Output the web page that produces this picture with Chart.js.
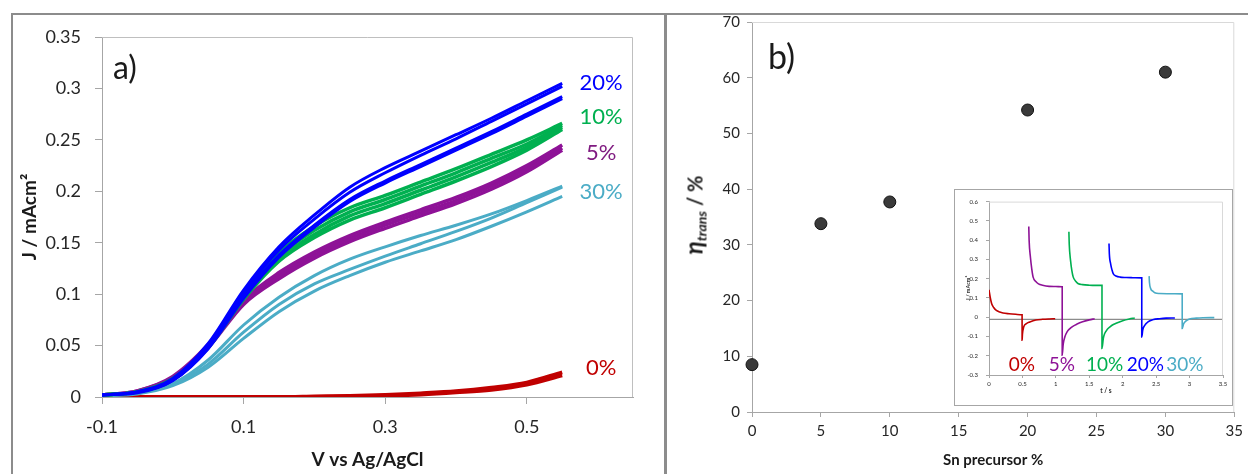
<!DOCTYPE html>
<html>
<head>
<meta charset="utf-8">
<script src="https://cdn.jsdelivr.net/npm/chart.js@4.4.0/dist/chart.umd.min.js"></script>
<style>
  body { margin: 0; width: 1248px; height: 474px; background: #fff; position: relative; overflow: hidden; font-family: Lato, "Open Sans", sans-serif; color: #1a1a1a; }
  .frame { position: absolute; border-top: 2px solid #8c8c8c; border-left: 2px solid #8c8c8c; }
  #frameA { left: 11px; top: 13px; width: 660px; height: 470px; }
  #frameB { left: 664px; top: 13px; width: 600px; height: 470px; border-left-width: 3px; }
  .box { position: absolute; }
  #wrapA { left: 0; top: 0; width: 660px; height: 474px; }
  #wrapB { left: 660px; top: 0; width: 588px; height: 474px; }
  #wrapInset { left: 954px; top: 189px; width: 279px; height: 217px; box-sizing: border-box; background: #fff; border: 1px solid #a6a6a6; }
  .tag { position: absolute; font-size: 32px; line-height: 1; }
  .ytitle { position: absolute; transform: translate(-50%, -50%) rotate(-90deg); white-space: nowrap; font-weight: bold; font-size: 20px; }
  .ytitle i { font-size: 24px; }
  .ytitle sub { font-size: 14px; vertical-align: -4px; }
</style>
</head>
<body>
<div class="frame" id="frameA"></div>
<div class="frame" id="frameB"></div>
<div class="box" id="wrapA"><canvas id="chartA"></canvas></div>
<div class="box" id="wrapB"><canvas id="chartB"></canvas></div>
<div class="tag" style="left:113px; top:51px;">a)</div>
<div class="tag" style="left:768px; top:39px; font-size:34px;">b)</div>
<div class="ytitle" style="left:694px; top:215px;"><i>η<sub>trans</sub></i> / %</div>
<div class="box" id="wrapInset"><canvas id="chartInset"></canvas></div>
<script>
// ---- panel a: LSV curves, J (mA cm-2) vs V vs Ag/AgCl ----
const voltage = [-0.1, -0.05, 0, 0.05, 0.1, 0.15, 0.2, 0.25, 0.3, 0.35, 0.4, 0.45, 0.5, 0.55];

// 20 %
const blue1 = [0.002, 0.005, 0.018, 0.052, 0.104, 0.146, 0.177, 0.204, 0.223, 0.239, 0.255, 0.271, 0.288, 0.305];
const blue2 = [0.002, 0.005, 0.017, 0.050, 0.101, 0.143, 0.173, 0.199, 0.218, 0.235, 0.251, 0.268, 0.285, 0.302];
const blue3 = [0.002, 0.005, 0.016, 0.048, 0.098, 0.138, 0.167, 0.192, 0.210, 0.226, 0.242, 0.258, 0.275, 0.292];
const blue4 = [0.002, 0.004, 0.016, 0.047, 0.096, 0.136, 0.165, 0.190, 0.208, 0.224, 0.240, 0.256, 0.273, 0.290];
// 10 %
const green1 = [0.002, 0.005, 0.018, 0.050, 0.099, 0.140, 0.166, 0.184, 0.196, 0.209, 0.222, 0.236, 0.250, 0.266];
const green2 = [0.002, 0.005, 0.017, 0.049, 0.097, 0.137, 0.162, 0.180, 0.192, 0.205, 0.218, 0.232, 0.246, 0.264];
const green3 = [0.002, 0.005, 0.017, 0.048, 0.096, 0.134, 0.158, 0.176, 0.188, 0.201, 0.214, 0.228, 0.243, 0.262];
const green4 = [0.002, 0.005, 0.017, 0.048, 0.095, 0.132, 0.155, 0.172, 0.184, 0.197, 0.210, 0.224, 0.240, 0.260];
// 5 %
const purple1 = [0.002, 0.006, 0.020, 0.051, 0.094, 0.121, 0.141, 0.157, 0.170, 0.182, 0.194, 0.208, 0.225, 0.245];
const purple2 = [0.002, 0.006, 0.019, 0.049, 0.092, 0.118, 0.138, 0.154, 0.167, 0.179, 0.191, 0.205, 0.222, 0.242];
const purple3 = [0.002, 0.005, 0.018, 0.048, 0.090, 0.115, 0.135, 0.151, 0.164, 0.176, 0.188, 0.202, 0.219, 0.240];
// 30 %
const cyan1 = [0.002, 0.004, 0.013, 0.036, 0.070, 0.097, 0.118, 0.134, 0.146, 0.157, 0.167, 0.178, 0.191, 0.205];
const cyan2 = [0.002, 0.004, 0.012, 0.032, 0.063, 0.090, 0.110, 0.124, 0.137, 0.149, 0.161, 0.174, 0.189, 0.204];
const cyan3 = [0.001, 0.003, 0.011, 0.029, 0.057, 0.083, 0.103, 0.118, 0.131, 0.142, 0.153, 0.166, 0.180, 0.195];
// 0 %
const red1 = [0, 0, 0, 0, 0, 0, 0.0005, 0.001, 0.002, 0.0035, 0.0055, 0.009, 0.014, 0.024];
const red2 = [0, 0, 0, 0, 0, 0, 0, 0.0005, 0.0012, 0.0025, 0.0045, 0.007, 0.012, 0.021];

const vTicks = [-0.1, 0.1, 0.3, 0.5];
const jTicks = [0, 0.05, 0.1, 0.15, 0.2, 0.25, 0.3, 0.35];

const curveLabels = ["20%", "10%", "5%", "30%", "0%"];
const curveLabelV = [0.605, 0.605, 0.605, 0.605, 0.605];
const curveLabelJ = [0.305, 0.272, 0.237, 0.199, 0.028];

// ---- panel b: transfer efficiency vs Sn precursor ----
const snPercent = [0, 5, 10, 20, 30];
const etaTrans = [8.5, 33.8, 37.7, 54.2, 61.0];
const snTicks = [0, 5, 10, 15, 20, 25, 30, 35];
const etaTicks = [0, 10, 20, 30, 40, 50, 60, 70];

// ---- inset: current transients ----
const tRed = [0, 0.02, 0.04, 0.07, 0.11, 0.16, 0.21, 0.3, 0.4, 0.495, 0.495, 0.5, 0.52, 0.56, 0.61, 0.7, 0.8, 0.9, 0.99];
const jRed = [0.142, 0.1, 0.07, 0.05, 0.035, 0.027, 0.022, 0.018, 0.015, 0.013, -0.12, -0.09, -0.05, -0.033, -0.025, -0.015, -0.011, -0.009, -0.008];
const tPurple = [0.595, 0.6, 0.62, 0.64, 0.66, 0.7, 0.74, 0.8, 0.9, 1.0, 1.095, 1.095, 1.11, 1.135, 1.17, 1.21, 1.26, 1.31, 1.4, 1.5, 1.58];
const jPurple = [0.471, 0.40, 0.31, 0.25, 0.208, 0.185, 0.173, 0.166, 0.16, 0.159, 0.158, -0.197, -0.14, -0.102, -0.075, -0.059, -0.046, -0.037, -0.024, -0.014, -0.008];
const tGreen = [1.195, 1.2, 1.22, 1.24, 1.26, 1.3, 1.33, 1.4, 1.5, 1.6, 1.69, 1.69, 1.71, 1.73, 1.77, 1.81, 1.86, 1.91, 2.0, 2.1, 2.18];
const jGreen = [0.443, 0.38, 0.294, 0.24, 0.208, 0.185, 0.175, 0.169, 0.166, 0.165, 0.165, -0.162, -0.11, -0.085, -0.063, -0.05, -0.038, -0.03, -0.018, -0.009, -0.004];
const tBlue = [1.795, 1.8, 1.82, 1.84, 1.86, 1.9, 1.96, 2.05, 2.15, 2.285, 2.285, 2.3, 2.33, 2.36, 2.4, 2.46, 2.55, 2.65, 2.78];
const jBlue = [0.383, 0.33, 0.276, 0.245, 0.225, 0.214, 0.208, 0.206, 0.205, 0.204, -0.102, -0.065, -0.042, -0.03, -0.02, -0.012, -0.008, -0.005, -0.004];
const tCyan = [2.395, 2.4, 2.42, 2.45, 2.48, 2.55, 2.7, 2.89, 2.89, 2.91, 2.93, 2.96, 3.0, 3.1, 3.2, 3.37];
const jCyan = [0.213, 0.18, 0.147, 0.135, 0.127, 0.123, 0.122, 0.121, -0.059, -0.035, -0.025, -0.016, -0.009, -0.005, -0.003, -0.002];
const tBase = [0, 3.5];
const jBase = [-0.011, -0.011];

const tTicks = [0, 0.5, 1, 1.5, 2, 2.5, 3, 3.5];
const jInsetTicks = [-0.3, -0.2, -0.1, 0, 0.1, 0.2, 0.3, 0.4, 0.5, 0.6];
const insetLabels = ["0%", "5%", "10%", "20%", "30%"];
const insetLabelT = [0.49, 1.09, 1.73, 2.34, 2.93];
const insetLabelJ = [-0.245, -0.245, -0.245, -0.245, -0.245];

const RED = "#c00000", PURPLE = "#8e1297", GREEN = "#00b050", BLUE = "#0000ff", CYAN = "#4bacc6";
const labelColors = [BLUE, GREEN, "#7f1a80", CYAN, RED];
const insetColors = [RED, PURPLE, GREEN, BLUE, CYAN];

const FONT = "Lato, 'Open Sans', sans-serif";
const fmt = v => String(parseFloat(Number(v).toFixed(2)));
const pts = (xs, ys) => xs.map((x, i) => ({ x: x, y: ys[i] }));
const fixTicks = arr => scale => { scale.ticks = arr.map(v => ({ value: v })); };

// top + right border of the plot area, and text labels placed in data units
const plotExtras = {
  id: "plotExtras",
  afterDatasetsDraw(chart) {
    const o = chart.options.plugins.plotExtras;
    const { ctx, chartArea: a, scales } = chart;
    ctx.save();
    ctx.strokeStyle = o.border;
    ctx.lineWidth = 1;
    ctx.beginPath();
    ctx.moveTo(a.left, a.top + 0.5);
    ctx.lineTo(a.right - 0.5, a.top + 0.5);
    ctx.lineTo(a.right - 0.5, a.bottom);
    ctx.stroke();
    if (o.labels) {
      ctx.font = o.font;
      ctx.textAlign = "center";
      ctx.textBaseline = "middle";
      o.labels.forEach((t, i) => {
        ctx.fillStyle = o.colors[i];
        ctx.fillText(t, scales.x.getPixelForValue(o.xs[i]), scales.y.getPixelForValue(o.ys[i]));
      });
    }
    ctx.restore();
  }
};

function axis(opts) {
  return {
    type: "linear",
    min: opts.min,
    max: opts.max,
    afterBuildTicks: fixTicks(opts.ticks),
    afterFit: opts.fit,
    ticks: { callback: fmt, padding: opts.pad, color: "#262626", maxRotation: 0, autoSkip: false, font: { family: FONT, size: opts.size } },
    grid: { drawOnChartArea: false, tickLength: opts.tick, color: "#a6a6a6", lineWidth: 1 },
    border: { color: "#a6a6a6", width: 1 },
    title: opts.title || { display: false }
  };
}

Chart.defaults.animation = false;
Chart.defaults.font.family = FONT;

const lineSet = (arr, color, width) => ({
  data: pts(voltage, arr), borderColor: color, borderWidth: width, pointRadius: 0,
  showLine: true, cubicInterpolationMode: "monotone", fill: false
});

new Chart(document.getElementById("chartA"), {
  type: "scatter",
  data: {
    datasets: [
      lineSet(blue1, BLUE, 3), lineSet(blue2, BLUE, 3), lineSet(blue3, BLUE, 3), lineSet(blue4, BLUE, 3),
      lineSet(green1, GREEN, 3.5), lineSet(green2, GREEN, 3.5), lineSet(green3, GREEN, 3.5), lineSet(green4, GREEN, 3.5),
      lineSet(purple1, PURPLE, 3.5), lineSet(purple2, PURPLE, 3.5), lineSet(purple3, PURPLE, 3.5),
      lineSet(cyan1, CYAN, 3), lineSet(cyan2, CYAN, 3), lineSet(cyan3, CYAN, 3),
      lineSet(red1, RED, 4), lineSet(red2, RED, 4)
    ]
  },
  options: {
    responsive: true,
    maintainAspectRatio: false,
    layout: { padding: { top: 37, right: 27, left: 0, bottom: 0 } },
    plugins: {
      legend: { display: false },
      tooltip: { enabled: false },
      plotExtras: { border: "#bfbfbf", labels: curveLabels, xs: curveLabelV, ys: curveLabelJ, colors: labelColors, font: "22px " + FONT }
    },
    scales: {
      x: axis({ min: -0.1, max: 0.65, ticks: vTicks, size: 18, pad: 12, tick: 7,
        fit: s => { s.height = 77; },
        title: { display: true, text: "V vs Ag/AgCl", color: "#1a1a1a", font: { family: FONT, size: 19, weight: "bold" }, padding: { top: 0, bottom: 3 } } }),
      y: axis({ min: 0, max: 0.35, ticks: jTicks, size: 18, pad: 14, tick: 7,
        fit: s => { s.width = 102; },
        title: { display: true, text: "J / mAcm²", color: "#1a1a1a", font: { family: FONT, size: 19, weight: "bold" }, padding: { top: 18, bottom: 0 } } })
    }
  },
  plugins: [plotExtras]
});

new Chart(document.getElementById("chartB"), {
  type: "scatter",
  data: {
    datasets: [{
      data: pts(snPercent, etaTrans), pointRadius: 6, backgroundColor: "#3a3a3a",
      borderColor: "#111", borderWidth: 1, clip: false
    }]
  },
  options: {
    responsive: true,
    maintainAspectRatio: false,
    layout: { padding: { top: 22, right: 7, left: 0, bottom: 0 } },
    plugins: { legend: { display: false }, tooltip: { enabled: false }, plotExtras: { border: "#d9d9d9" } },
    scales: {
      x: axis({ min: 0, max: 35, ticks: snTicks, size: 15, pad: 5, tick: 5,
        fit: s => { s.height = 62; },
        title: { display: true, text: "Sn precursor %", color: "#1a1a1a", font: { family: FONT, size: 15, weight: "bold" }, padding: { top: 0, bottom: 5 } } }),
      y: axis({ min: 0, max: 70, ticks: etaTicks, size: 15, pad: 7, tick: 5,
        fit: s => { s.width = 92; } })
    }
  },
  plugins: [plotExtras]
});

const transSet = (ts, js, color, width) => ({
  data: pts(ts, js), borderColor: color, borderWidth: width, pointRadius: 0,
  showLine: true, cubicInterpolationMode: "monotone", fill: false
});

new Chart(document.getElementById("chartInset"), {
  type: "scatter",
  data: {
    datasets: [
      transSet(tRed, jRed, RED, 1.6),
      transSet(tPurple, jPurple, PURPLE, 1.6),
      transSet(tGreen, jGreen, GREEN, 1.6),
      transSet(tBlue, jBlue, BLUE, 1.6),
      transSet(tCyan, jCyan, CYAN, 1.6),
      transSet(tBase, jBase, "#8c8c8c", 1.2)
    ]
  },
  options: {
    responsive: true,
    maintainAspectRatio: false,
    layout: { padding: { top: 11, right: 9, left: 0, bottom: 0 } },
    plugins: {
      legend: { display: false },
      tooltip: { enabled: false },
      plotExtras: { border: "#d9d9d9", labels: insetLabels, xs: insetLabelT, ys: insetLabelJ, colors: insetColors, font: "19px " + FONT }
    },
    scales: {
      x: axis({ min: 0, max: 3.5, ticks: tTicks, size: 6, pad: 2, tick: 3,
        fit: s => { s.height = 30; },
        title: { display: true, text: "t / s", color: "#333", font: { family: FONT, size: 6.5, weight: "bold" }, padding: { top: 0, bottom: 10 } } }),
      y: axis({ min: -0.3, max: 0.6, ticks: jInsetTicks, size: 6, pad: 8, tick: 3,
        fit: s => { s.width = 34; },
        title: { display: true, text: "J / mAcm²", color: "#333", font: { family: FONT, size: 5.5, weight: "bold" }, padding: { top: 10, bottom: 0 } } })
    }
  },
  plugins: [plotExtras]
});
</script>
</body>
</html>
